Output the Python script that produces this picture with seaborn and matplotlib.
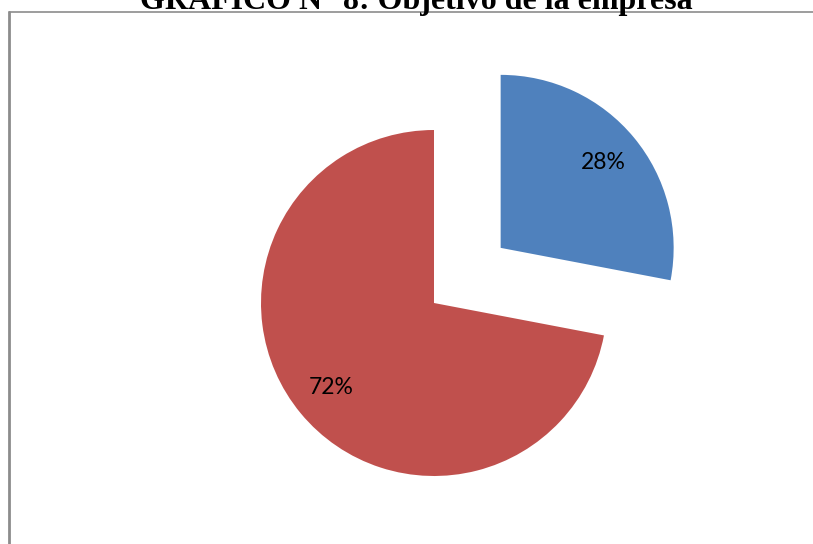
import matplotlib
matplotlib.use("Agg")
import matplotlib.pyplot as plt
import seaborn as sns
from matplotlib.lines import Line2D

categories = ["Sí", "No"]
values = [28, 72]
colors = ["#4F81BD", "#C0504D"]
explode = [0.5, 0.0]
title = "GRAFICO N° 8: Objetivo de la empresa"

sns.set_theme(style="white")
plt.rcParams['font.family'] = ['Lato', 'DejaVu Sans']

W, H = 813, 544
fig = plt.figure(figsize=(W / 100, H / 100), dpi=100)
fig.patch.set_facecolor("white")
ax = fig.add_axes([0, 0, 1, 1])

cx, cy, r = 434, 303, 173
wedges, texts, autotexts = ax.pie(
    values, colors=colors, explode=explode, startangle=90, counterclock=False,
    autopct=lambda p: f"{p:.0f}%", pctdistance=0.77, radius=1.0,
    textprops=dict(fontsize=16.5, color="black"),
    wedgeprops=dict(linewidth=0),
)
ax.set_xlim(-cx / r, (W - cx) / r)
ax.set_ylim(-(H - cy) / r, cy / r)
ax.set_aspect("auto")
ax.axis("off")

# frame
fig.add_artist(Line2D([9 / W, 9 / W], [0, 1 - 12 / H], color="#8c8c8c", lw=2.0))
fig.add_artist(Line2D([9 / W, 1], [1 - 12 / H, 1 - 12 / H], color="#8c8c8c", lw=1.2))

fig.text(416.5 / W, 1 - 9 / H, title, ha="center", va="baseline", color="black",
         fontsize=23, fontweight="bold", family=["Liberation Serif", "DejaVu Serif"])

fig.savefig("out.png", dpi=100, facecolor="white")
